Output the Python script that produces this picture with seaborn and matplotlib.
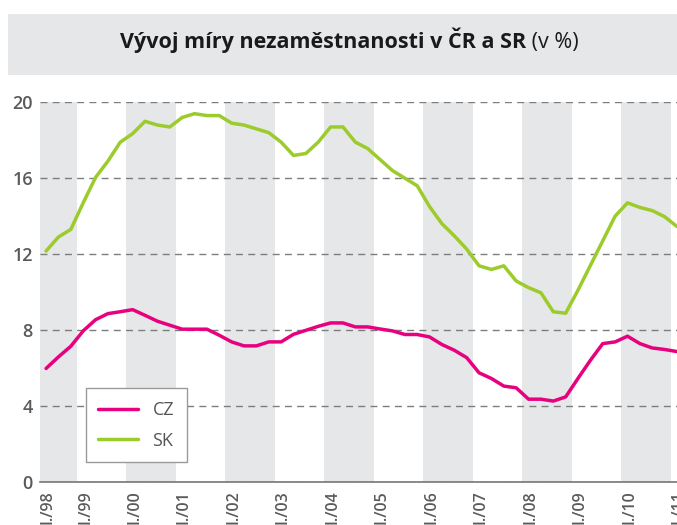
import numpy as np
import pandas as pd
import matplotlib
matplotlib.use("Agg")
import matplotlib.pyplot as plt
import seaborn as sns
from matplotlib.patches import Rectangle
from matplotlib.lines import Line2D

# ---- data (quarterly unemployment rate, %) ----
periods = pd.period_range("1998Q2", "2011Q1", freq="Q")
cz = [5.97, 6.58, 7.14, 7.95, 8.54, 8.86, 8.96, 9.07, 8.77, 8.46, 8.25, 8.04,
      8.04, 8.04, 7.72, 7.37, 7.16, 7.16, 7.37, 7.37, 7.77, 7.98, 8.19, 8.37,
      8.37, 8.16, 8.16, 8.05, 7.95, 7.76, 7.76, 7.63, 7.23, 6.93, 6.54, 5.74,
      5.44, 5.04, 4.95, 4.35, 4.35, 4.25, 4.47, 5.45, 6.40, 7.28, 7.37, 7.67,
      7.28, 7.05, 6.97, 6.86]
sk = [12.16, 12.90, 13.30, 14.70, 16.04, 16.90, 17.90, 18.35, 19.00, 18.80, 18.70, 19.20,
      19.40, 19.30, 19.30, 18.90, 18.80, 18.60, 18.40, 17.90, 17.20, 17.30, 17.90, 18.70,
      18.70, 17.90, 17.56, 16.98, 16.40, 16.00, 15.60, 14.50, 13.60, 12.96, 12.26, 11.38,
      11.19, 11.38, 10.58, 10.23, 9.96, 8.96, 8.88, 10.10, 11.40, 12.70, 14.00, 14.70,
      14.46, 14.29, 13.97, 13.45]
series_names = ["CZ", "SK"]
label_years = list(range(1998, 2012))
year_labels = ["I./%02d" % (y % 100) for y in label_years]
shaded_years = [1998, 2000, 2002, 2004, 2006, 2008, 2010]
y_ticks = [0, 4, 8, 12, 16, 20]
title_bold = "Vývoj míry nezaměstnanosti v ČR a SR"
title_rest = " (v %)"

# x as fractional year at the middle of each quarter
xq = [p.year + (p.quarter - 0.5) / 4 for p in periods]
df = pd.DataFrame({
    "x": xq * 2,
    "value": cz + sk,
    "country": ["CZ"] * len(cz) + ["SK"] * len(sk),
})

sns.set_style("white")
plt.rcParams["font.family"] = ["Open Sans", "DejaVu Sans"]

W, H = 677, 525
fig = plt.figure(figsize=(W / 100, H / 100), dpi=100)
fig.patch.set_facecolor("white")

# header band
fig.patches.append(Rectangle((8 / W, 1 - 75 / H), 1 - 8 / W, 61 / H,
                             transform=fig.transFigure, facecolor="#e6e7e9",
                             edgecolor="none", zorder=0))

x_left = periods[0].year + (periods[0].quarter - 1) / 4
x_right = xq[-1]
ax = fig.add_axes([39.9 / W, 1 - 481.7 / H, 1 - 39.9 / W, (481.7 - 102.3) / H])

band = "#e6e7e9"
for y in shaded_years:
    ax.axvspan(max(y, x_left), y + 1, color=band, lw=0, zorder=0.2)

palette = {"CZ": "#e8017f", "SK": "#9ccb2c"}
sns.lineplot(data=df, x="x", y="value", hue="country", palette=palette,
             linewidth=2.5, ax=ax, legend=False, zorder=3)

ax.set_xlim(x_left, x_right)
ax.set_ylim(0, 20)
ax.set_xlabel("")
ax.set_ylabel("")

# grid
ax.set_axisbelow(True)
ax.yaxis.grid(True, linestyle=(0, (5, 3.8)), color="#7d7d7d", linewidth=1.0)
ax.xaxis.grid(False)

for s in ["top", "right", "left"]:
    ax.spines[s].set_visible(False)
ax.spines["bottom"].set_color("#777777")
ax.spines["bottom"].set_linewidth(1.2)
ax.spines["bottom"].set_zorder(4)

ax.set_yticks(y_ticks)
ax.set_yticklabels([str(v) for v in y_ticks])
ax.tick_params(axis="y", length=0, pad=5, labelsize=13, labelcolor="#5a5a5a")
for t in ax.get_yticklabels():
    t.set_fontweight("semibold")

major = [max(y, x_left) for y in label_years]
ax.set_xticks(major)
ax.set_xticklabels(year_labels, rotation=90, ha="left", va="top")
ax.set_xticks(np.arange(x_left, x_right, 0.25), minor=True)
ax.tick_params(axis="x", which="both", direction="in", length=4, width=1,
               color="#777777", pad=6, labelsize=11.5, labelcolor="#5a5a5a")
for t in ax.get_xticklabels():
    t.set_fontweight("semibold")

# legend
handles = [Line2D([], [], color=palette[n], lw=2.5) for n in series_names]
leg = ax.legend(handles, series_names, loc="lower left",
                bbox_to_anchor=(85.7 / W, 1 - 462.3 / H), bbox_transform=fig.transFigure,
                frameon=True, fancybox=False, framealpha=1, edgecolor="#9a9a9a",
                fontsize=13, handlelength=2.2, handletextpad=0.8, borderpad=0.7,
                labelspacing=0.7, borderaxespad=0)
leg.get_frame().set_linewidth(1.0)
for t in leg.get_texts():
    t.set_color("#555555")
leg.set_zorder(5)

# title (bold part + regular part, centered together)
fig.canvas.draw()
r = fig.canvas.get_renderer()
ty = 1 - 48 / H
t1 = fig.text(0, ty, title_bold, fontsize=15.5, fontweight="bold", color="#1a1a1a",
              ha="left", va="baseline")
t2 = fig.text(0, ty, title_rest, fontsize=15.5, color="#1a1a1a", ha="left", va="baseline")
w1 = t1.get_window_extent(r).width
w2 = t2.get_window_extent(r).width
x0 = 349 - (w1 + w2) / 2
t1.set_x(x0 / W)
t2.set_x((x0 + w1) / W)

fig.savefig("out.png", dpi=100)
